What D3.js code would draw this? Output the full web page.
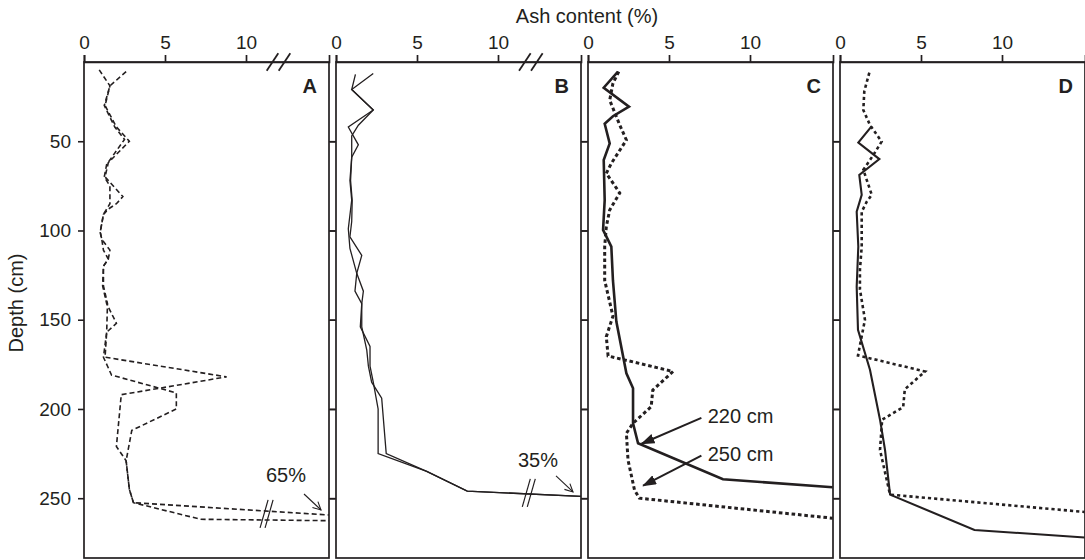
<!DOCTYPE html>
<html>
<head>
<meta charset="utf-8">
<script src="https://cdn.jsdelivr.net/npm/d3@7"></script>
<style>
  body { margin: 0; background: #fff; }
  svg { display: block; font-family: "Liberation Sans", Arial, sans-serif; }
</style>
</head>
<body>
<svg id="chart" width="1085" height="560"></svg>
<script>
const ink = '#231f20'

const depthTicks = [50, 100, 150, 200, 250]
const ashTicks = [0, 5, 10]
const panelNames = ['A', 'B', 'C', 'D']

// every point is [depth (cm), ash content (%)]
const undr1 = [[10, 0.94], [19, 1.6], [30, 1.3], [42, 2.0], [50, 2.8], [62, 1.5], [70, 1.3], [81, 2.4], [85, 2.0],
  [88, 1.5], [91, 1.2], [96, 1.1], [101, 1.0], [105, 1.1], [111, 1.6], [116, 1.5], [120, 1.2], [131, 1.15],
  [141, 1.4], [152, 2.0], [157, 1.4], [171, 1.3], [182, 8.8], [192, 2.3], [221, 2.0], [229, 2.6], [245, 2.8],
  [252.5, 3.05], [259.4, 65]]
const undr2 = [[11, 2.6], [19, 1.6], [30, 1.25], [42, 1.9], [49, 2.5], [63, 1.4], [70, 1.25], [75, 1.6], [85, 1.6],
  [91, 1.2], [96, 1.1], [101, 1.0], [105, 1.1], [111, 1.2], [116, 1.5], [120, 1.2], [131, 1.2], [141, 1.45],
  [157, 1.4], [171, 1.2], [181, 1.7], [191, 5.7], [200, 5.7], [212, 2.95], [229, 2.6], [245, 2.8], [252.5, 3.05],
  [261.8, 7.2], [262.6, 65]]

const dra1 = [[12, 2.3], [21, 0.97], [32.5, 2.3], [42, 0.76], [52, 1.38], [59, 0.97], [72, 0.86], [83, 0.97],
  [99, 0.76], [110, 0.86], [124, 1.28], [134, 1.69], [141, 1.59], [154, 1.59], [167, 1.9], [176, 2.0], [185, 2.2],
  [194, 2.82], [225, 3.1], [235, 5.6], [246, 8.1], [249, 35]]
const dra2 = [[12.5, 1.2], [21, 0.97], [32.5, 2.3], [41, 1.38], [47, 0.97], [59, 0.97], [72, 0.9], [83, 1.0],
  [95, 0.97], [103.5, 0.86], [114, 1.59], [124, 1.28], [134, 1.17], [141, 1.59], [154, 1.5], [165, 2.1],
  [176, 2.1], [185, 2.3], [200, 2.6], [225, 2.6], [235, 5.6], [246, 8.1], [249, 35]]

const core220 = [[11, 1.85], [20, 0.97], [30.6, 2.53], [36, 1.54], [40.2, 1.03], [51.2, 1.34], [60.5, 0.97],
  [83, 1.03], [99.7, 0.93], [109, 1.44], [128, 1.54], [151, 1.75], [180, 2.37], [188.4, 2.78], [208, 2.78],
  [219.2, 3.09], [239.4, 8.33], [243.9, 15.1]]
const core250 = [[11, 1.9], [17.5, 1.54], [27, 1.34], [40.9, 1.96], [49.3, 2.37], [62.4, 1.44], [68, 1.13],
  [79, 1.96], [88.5, 1.34], [97.9, 1.13], [109, 1.03], [128, 1.03], [148, 1.54], [159.5, 1.13], [170.3, 1.24],
  [179, 5.25], [189.4, 4.0], [198.7, 3.9], [208, 2.78], [213.6, 2.37], [228.6, 2.47], [245.4, 2.87], [250, 3.17],
  [261.2, 15.1]]

const coreD1 = [[41.5, 1.96], [50.8, 1.13], [60, 2.43], [68.9, 1.19], [80, 1.34], [89.5, 1.03], [109, 1.13],
  [131.5, 1.03], [155.7, 1.11], [178, 1.85], [206, 2.47], [223, 2.78], [248, 3.09], [267.8, 8.3], [272, 15.1]]
const coreD2 = [[11.6, 1.81], [22, 1.5], [32.5, 1.44], [40.9, 1.85], [50.2, 2.57], [57.7, 2.06], [66, 1.44],
  [80, 1.96], [83.9, 1.65], [89.5, 1.34], [109, 1.34], [122, 1.23], [133, 1.23], [150, 1.54], [170, 1.11],
  [179, 5.25], [189, 4.0], [199, 3.9], [206, 2.6], [223, 2.47], [248, 3.09], [257.7, 15.1]]

const panelSeries = [
  [{ data: undr1, style: 'dash' }, { data: undr2, style: 'dash' }],
  [{ data: dra1, style: 'thin' }, { data: dra2, style: 'thin' }],
  [{ data: core220, style: 'thick' }, { data: core250, style: 'dots' }],
  [{ data: coreD1, style: 'mid' }, { data: coreD2, style: 'dots2' }]
]
const styles = {
  dash: { w: 1.6, dash: '5,3' },
  thin: { w: 1.3, dash: null },
  thick: { w: 2.6, dash: null },
  dots: { w: 3, dash: '3.6,2.8' },
  mid: { w: 2.1, dash: null },
  dots2: { w: 2.6, dash: '3.2,3' }
}

const W = 245
const perUnit = 16.2
const plotTop = 62
const plotBottom = 558
const svg = d3.select('#chart')

const y = d3.scaleLinear().domain([5.6, 283.5]).range([plotTop, plotBottom])
const panelLeft = d3.scaleLinear().domain([0, 1]).range([84, 336])
const xScales = [
  d3.scaleLinear().domain([0, 12, 65]).range([0, 12 * perUnit, W]),
  d3.scaleLinear().domain([0, 12, 35]).range([0, 12 * perUnit, W]),
  d3.scaleLinear().domain([0, W / perUnit]).range([0, W]),
  d3.scaleLinear().domain([0, W / perUnit]).range([0, W])
]

const defs = svg.append('defs')
defs.append('marker').attr('id', 'open-head')
  .attr('viewBox', '0 0 10 10').attr('refX', 9).attr('refY', 5)
  .attr('markerWidth', 10).attr('markerHeight', 10).attr('markerUnits', 'userSpaceOnUse')
  .attr('orient', 'auto')
  .append('path').attr('d', 'M 1 1 L 9 5 L 1 9').attr('fill', 'none').attr('stroke', ink).attr('stroke-width', 1.1)
defs.append('marker').attr('id', 'solid-head')
  .attr('viewBox', '0 0 14 10').attr('refX', 13).attr('refY', 5)
  .attr('markerWidth', 14).attr('markerHeight', 10).attr('markerUnits', 'userSpaceOnUse')
  .attr('orient', 'auto')
  .append('path').attr('d', 'M 0 0 L 14 5 L 0 10 Z').attr('fill', ink)

// titles
svg.append('text')
  .attr('x', 587).attr('y', 22.5)
  .attr('text-anchor', 'middle').attr('font-size', 20).attr('fill', ink)
  .text('Ash content (%)')
svg.append('text')
  .attr('transform', `translate(23, ${(plotTop + plotBottom) / 2 - 7}) rotate(-90)`)
  .attr('text-anchor', 'middle').attr('font-size', 20).attr('fill', ink)
  .text('Depth (cm)')

panelNames.forEach((name, i) => {
  const x = xScales[i]
  const g = svg.append('g').attr('transform', `translate(${panelLeft(i)},0)`)

  defs.append('clipPath').attr('id', 'clip' + name)
    .append('rect').attr('x', 0).attr('y', plotTop).attr('width', W).attr('height', plotBottom - plotTop)

  // outward depth ticks on both side borders
  const leftAxis = d3.axisLeft(y).tickValues(depthTicks).tickSize(6).tickPadding(7)
  if (i > 0) leftAxis.tickFormat('')
  const la = g.append('g').call(leftAxis)
  la.select('.domain').remove()
  la.selectAll('line').attr('stroke', ink).attr('stroke-width', 1.6)
  la.selectAll('text').attr('font-size', 19).attr('fill', ink)
  la.attr('font-family', null)
  if (i < panelNames.length - 1) {
    const ra = g.append('g').attr('transform', `translate(${W},0)`)
      .call(d3.axisRight(y).tickValues(depthTicks).tickSize(6).tickFormat(''))
    ra.select('.domain').remove()
    ra.selectAll('line').attr('stroke', ink).attr('stroke-width', 1.6)
  }

  // panel frame
  g.append('rect')
    .attr('x', 0).attr('y', plotTop).attr('width', W).attr('height', plotBottom - plotTop)
    .attr('fill', 'none').attr('stroke', ink).attr('stroke-width', 1.7)

  // top ash axis
  const ta = g.append('g').attr('transform', `translate(0,${plotTop})`)
    .call(d3.axisTop(x).tickValues(ashTicks).tickSize(7).tickSizeOuter(7).tickPadding(6))
  ta.attr('font-family', null)
  ta.select('.domain').attr('stroke', ink).attr('stroke-width', 1.7)
  ta.selectAll('line').attr('stroke', ink).attr('stroke-width', 1.7)
  ta.selectAll('text').attr('font-size', 19).attr('fill', ink)

  // series
  const line = d3.line().x(d => x(d[1])).y(d => y(d[0]))
  const lines = g.append('g').attr('clip-path', `url(#clip${name})`)
  panelSeries[i].forEach(s => {
    const st = styles[s.style]
    lines.append('path')
      .attr('class', 'series')
      .attr('d', line(s.data))
      .attr('fill', 'none')
      .attr('stroke', ink)
      .attr('stroke-width', st.w)
      .attr('stroke-linejoin', 'miter')
      .attr('stroke-dasharray', st.dash)
  })

  // panel letter
  g.append('text')
    .attr('x', W - 12).attr('y', 93)
    .attr('text-anchor', 'end').attr('font-size', 20).attr('font-weight', 'bold').attr('fill', ink)
    .text(name)
})

// axis breaks: [panel, ash value on the axis]
const axisBreaks = [[0, 12.1], [1, 12.2]]
// line breaks: [panel, ash value, depth]
const lineBreaks = [[0, 11.27, 258.8], [1, 11.9, 247]]

function slashes (cx, cy, dx, dy, gap, width) {
  const g = svg.append('g')
  ;[-gap, gap].forEach(o => {
    g.append('line')
      .attr('x1', cx + o - dx).attr('y1', cy + dy)
      .attr('x2', cx + o + dx).attr('y2', cy - dy)
      .attr('stroke', ink).attr('stroke-width', width)
  })
}
axisBreaks.forEach(([p, v]) => slashes(panelLeft(p) + xScales[p](v), plotTop, 5.8, 8.7, 6, 1.8))
lineBreaks.forEach(([p, v, d]) => slashes(panelLeft(p) + xScales[p](v), y(d), 4, 14, 2.5, 1.2))

// off-scale values
const farLabels = [[0, '65%', 241, 256.6], [1, '35%', 232.5, 246.5]]
farLabels.forEach(([p, label, textDepth, tipDepth]) => {
  const right = panelLeft(p) + W
  svg.append('text')
    .attr('x', right - 63).attr('y', y(textDepth))
    .attr('font-size', 20).attr('fill', ink)
    .text(label)
  svg.append('line')
    .attr('x1', right - 25).attr('y1', y(tipDepth) - 16)
    .attr('x2', right - 8).attr('y2', y(tipDepth))
    .attr('stroke', ink).attr('stroke-width', 1.1)
    .attr('marker-end', 'url(#open-head)')
})

// sampling depth callouts in panel C: [label, text depth, tip ash, tip depth]
const callouts = [['220 cm', 207.8, 3.3, 219.5], ['250 cm', 229, 3.4, 243]]
const xC = xScales[2]
callouts.forEach(([label, textDepth, tipAsh, tipDepth]) => {
  const left = panelLeft(2)
  svg.append('text')
    .attr('x', left + xC(7.39)).attr('y', y(textDepth))
    .attr('font-size', 20).attr('fill', ink)
    .text(label)
  svg.append('line')
    .attr('x1', left + xC(7.0)).attr('y1', y(textDepth) - 5)
    .attr('x2', left + xC(tipAsh)).attr('y2', y(tipDepth))
    .attr('stroke', ink).attr('stroke-width', 2)
    .attr('marker-end', 'url(#solid-head)')
})
</script>
</body>
</html>
